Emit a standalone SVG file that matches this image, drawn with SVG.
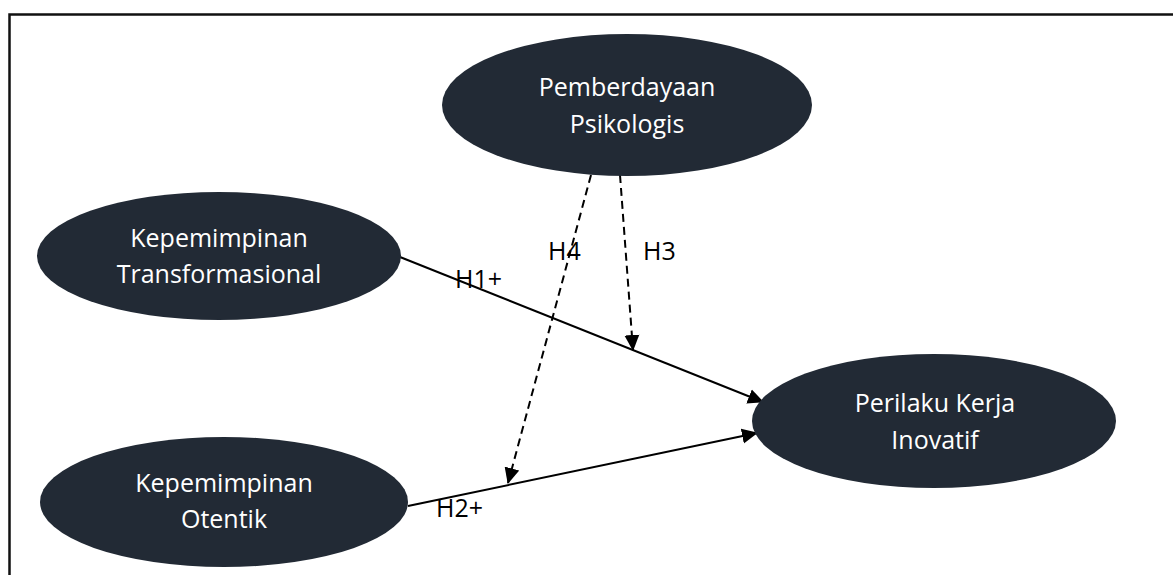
<svg xmlns="http://www.w3.org/2000/svg" width="1173" height="575" viewBox="0 0 1173 575">
  <style>
    .node { fill: #222a35; }
    .ntext { font-family: "Open Sans", "Noto Sans", sans-serif; font-size: 25px; fill: #ffffff; text-anchor: middle; }
    .lbl { font-family: "Open Sans", "Noto Sans", sans-serif; font-size: 25px; fill: #000000; }
    .solid { stroke: #000; stroke-width: 2; fill: none; marker-end: url(#arrow); }
    .dash { stroke: #000; stroke-width: 2; fill: none; stroke-dasharray: 8 5; marker-end: url(#arrow); }
  </style>
  <defs>
    <marker id="arrow" markerUnits="userSpaceOnUse" markerWidth="16" markerHeight="16" viewBox="0 0 16 16" refX="15" refY="8" orient="auto">
      <path d="M0,0.5 L16,8 L0,15.5 z" fill="#000"/>
    </marker>
  </defs>
  <rect x="0" y="0" width="1173" height="575" fill="#ffffff"/>
  <path d="M9.5,575 V14.5 H1173" fill="none" stroke="#111" stroke-width="2.5"/>

  <g id="connectors">
    <line class="solid" x1="400" y1="257" x2="763" y2="402"/>
    <line class="solid" x1="408" y1="506" x2="757" y2="433"/>
    <line class="dash" x1="620" y1="175" x2="633" y2="350"/>
    <line class="dash" x1="591" y1="175" x2="508" y2="483"/>
    <text class="lbl" x="455" y="288">H1+</text>
    <text class="lbl" x="436" y="517">H2+</text>
    <text class="lbl" x="643" y="260">H3</text>
    <text class="lbl" x="548" y="260">H4</text>
  </g>

  <g id="pemberdayaan">
    <ellipse class="node" cx="627" cy="105" rx="185" ry="71"/>
    <text class="ntext" x="627" y="96">Pemberdayaan</text>
    <text class="ntext" x="627" y="133">Psikologis</text>
  </g>
  <g id="transformasional">
    <ellipse class="node" cx="219" cy="256" rx="182" ry="64"/>
    <text class="ntext" x="219" y="247">Kepemimpinan</text>
    <text class="ntext" x="219" y="283">Transformasional</text>
  </g>
  <g id="otentik">
    <ellipse class="node" cx="224" cy="502" rx="184" ry="65"/>
    <text class="ntext" x="224" y="492">Kepemimpinan</text>
    <text class="ntext" x="224" y="528">Otentik</text>
  </g>
  <g id="perilaku">
    <ellipse class="node" cx="934" cy="421" rx="182" ry="67"/>
    <text class="ntext" x="935" y="412">Perilaku Kerja</text>
    <text class="ntext" x="935" y="449">Inovatif</text>
  </g>
</svg>
